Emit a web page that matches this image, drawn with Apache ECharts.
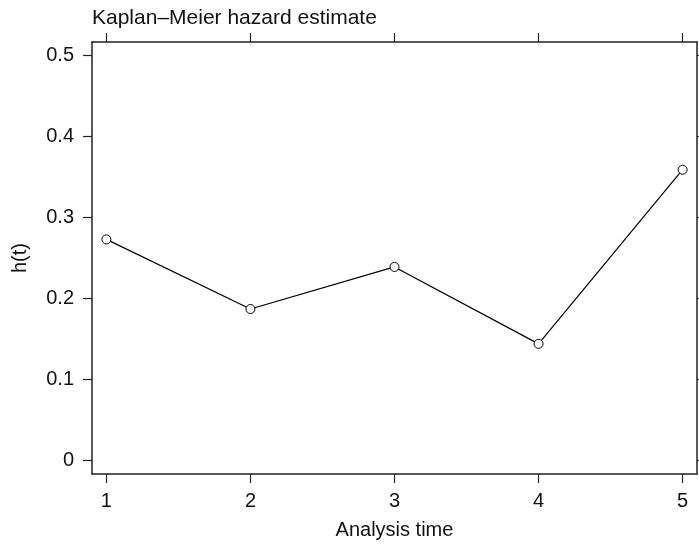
<!DOCTYPE html>
<html>
<head>
<meta charset="utf-8">
<style>
  html, body { margin: 0; padding: 0; background: #fff; }
  #chart { width: 699px; height: 547px; }
</style>
<script src="https://cdn.jsdelivr.net/npm/echarts@6/dist/echarts.min.js"></script>
</head>
<body>
<div id="chart"></div>
<script>
// Analysis times and Kaplan–Meier hazard estimates h(t)
const timePoints = [1, 2, 3, 4, 5];
const hazard = [0.273, 0.187, 0.239, 0.144, 0.359];
const xTicks = [1, 2, 3, 4, 5];
const yTicks = [0, 0.1, 0.2, 0.3, 0.4, 0.5];

const FONT = '"Liberation Sans", Arial, Helvetica, sans-serif';
const INK = '#222';
const boxLine = { show: true, onZero: false, lineStyle: { color: INK, width: 1.5 } };
const tickStyle = { show: true, inside: false, length: 9, lineStyle: { color: INK, width: 1.2 } };

const chart = echarts.init(document.getElementById('chart'), null, { renderer: 'canvas' });

const xRange = { min: 0.9, max: 5.1 };
const yRange = { min: -0.0167, max: 0.5167 };

chart.setOption({
  animation: false,
  backgroundColor: '#fff',
  title: {
    text: 'Kaplan\u2013Meier hazard estimate',
    left: 87,
    top: 3,
    textStyle: { fontFamily: FONT, fontSize: 21, fontWeight: 'normal', color: '#111' }
  },
  grid: { left: 92, right: 2, top: 42, bottom: 73, containLabel: false, outerBoundsMode: 'none' },
  xAxis: [
    {
      type: 'value', position: 'bottom', ...xRange,
      name: 'Analysis time', nameLocation: 'middle', nameGap: 46,
      nameTextStyle: { fontFamily: FONT, fontSize: 20, color: '#111' },
      axisLine: boxLine,
      axisTick: { ...tickStyle, customValues: xTicks },
      axisLabel: { customValues: xTicks, margin: 17, fontFamily: FONT, fontSize: 20, color: '#111' },
      splitLine: { show: false }
    },
    {
      type: 'value', position: 'top', ...xRange,
      axisLine: boxLine,
      axisTick: { ...tickStyle, customValues: xTicks },
      axisLabel: { show: false },
      splitLine: { show: false }
    }
  ],
  yAxis: [
    {
      type: 'value', position: 'left', ...yRange,
      name: 'h(t)', nameLocation: 'middle', nameGap: 62, nameRotate: 90,
      nameTextStyle: { fontFamily: FONT, fontSize: 20, color: '#111' },
      axisLine: boxLine,
      axisTick: { ...tickStyle, customValues: yTicks },
      axisLabel: {
        customValues: yTicks, margin: 18, fontFamily: FONT, fontSize: 20, color: '#111',
        formatter: v => (Math.abs(v) < 1e-9 ? '0' : v.toFixed(1))
      },
      splitLine: { show: false }
    },
    {
      type: 'value', position: 'right', ...yRange,
      axisLine: boxLine,
      axisTick: { ...tickStyle, customValues: yTicks },
      axisLabel: { show: false },
      splitLine: { show: false }
    }
  ],
  series: [
    {
      type: 'line',
      xAxisIndex: 0,
      yAxisIndex: 0,
      data: timePoints.map((t, i) => [t, hazard[i]]),
      symbol: 'circle',
      symbolSize: 9,
      showAllSymbol: true,
      lineStyle: { color: '#000', width: 1.2 },
      itemStyle: { color: '#fff', borderColor: '#000', borderWidth: 1 },
      emphasis: { disabled: true }
    }
  ]
});
</script>
</body>
</html>
